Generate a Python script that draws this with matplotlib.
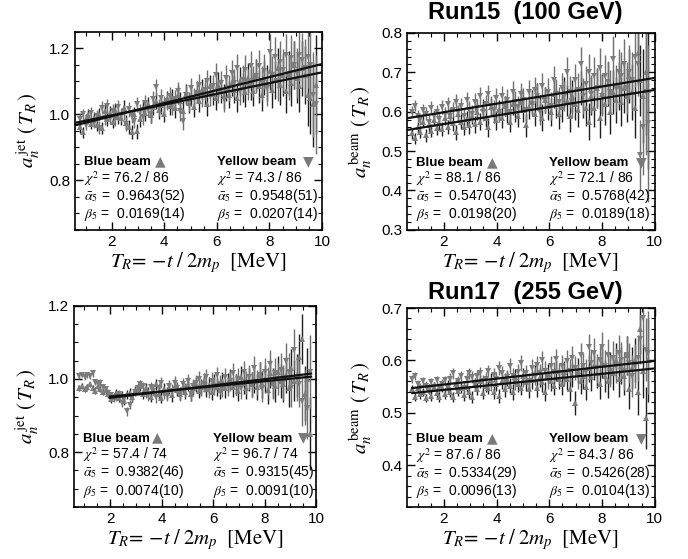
import numpy as np
import matplotlib.pyplot as plt
from matplotlib.ticker import MultipleLocator

plt.rcParams['font.family'] = ['Liberation Sans', 'DejaVu Sans']
plt.rcParams['mathtext.fontset'] = 'stix'

# --- bin centres T_R [MeV] ---
T_R = [0.80, 0.90, 1.01, 1.11, 1.21, 1.32, 1.42, 1.52, 1.62, 1.73, 1.83,
       1.93, 2.04, 2.14, 2.24, 2.35, 2.45, 2.55, 2.65, 2.76, 2.86, 2.96,
       3.07, 3.17, 3.27, 3.38, 3.48, 3.58, 3.68, 3.79, 3.89, 3.99, 4.10,
       4.20, 4.30, 4.41, 4.51, 4.61, 4.71, 4.82, 4.92, 5.02, 5.13, 5.23,
       5.33, 5.44, 5.54, 5.64, 5.74, 5.85, 5.95, 6.05, 6.16, 6.26, 6.36,
       6.47, 6.57, 6.67, 6.77, 6.88, 6.98, 7.08, 7.19, 7.29, 7.39, 7.50,
       7.60, 7.70, 7.80, 7.91, 8.01, 8.11, 8.22, 8.32, 8.42, 8.53, 8.63,
       8.73, 8.83, 8.94, 9.04, 9.14, 9.25, 9.35, 9.45, 9.56, 9.66, 9.76]

# --- Run15 jet ---
err_15jet = [0.018, 0.017, 0.017, 0.018, 0.018, 0.018, 0.019, 0.019, 0.019, 0.020, 0.020,
             0.020, 0.020, 0.021, 0.021, 0.021, 0.022, 0.022, 0.022, 0.022, 0.023, 0.023,
             0.023, 0.024, 0.024, 0.024, 0.025, 0.025, 0.025, 0.026, 0.026, 0.026, 0.027,
             0.027, 0.027, 0.028, 0.028, 0.029, 0.029, 0.030, 0.030, 0.031, 0.031, 0.032,
             0.032, 0.033, 0.033, 0.034, 0.035, 0.035, 0.036, 0.037, 0.037, 0.038, 0.039,
             0.040, 0.040, 0.041, 0.042, 0.043, 0.044, 0.045, 0.046, 0.047, 0.048, 0.049,
             0.050, 0.051, 0.052, 0.054, 0.055, 0.056, 0.058, 0.060, 0.061, 0.063, 0.065,
             0.067, 0.070, 0.072, 0.075, 0.079, 0.083, 0.088, 0.095, 0.110, 0.130, 0.150]
blue_15jet = [0.962, 0.945, 0.985, 0.998, 0.972, 0.990, 0.969, 1.001, 0.958, 1.010, 0.985,
              1.004, 0.978, 1.012, 0.993, 0.989, 1.020, 0.975, 0.962, 0.947, 1.000, 0.948,
              0.985, 1.020, 1.005, 1.030, 0.998, 1.022, 1.040, 1.012, 1.028, 1.002, 1.045,
              1.025, 1.050, 1.018, 1.060, 1.040, 1.010, 1.062, 1.035, 1.055, 1.022, 1.068,
              1.040, 1.075, 1.058, 1.030, 1.085, 1.062, 1.048, 1.090, 1.070, 1.055, 1.080,
              1.060, 1.095, 1.075, 1.050, 1.100, 1.082, 1.068, 1.110, 1.090, 1.072, 1.120,
              1.085, 1.060, 1.110, 1.095, 1.130, 1.075, 1.105, 1.140, 1.090, 1.120, 1.070,
              1.125, 1.095, 1.150, 1.110, 1.085, 1.140, 1.120, 1.060, 1.050, 1.030, 1.090]
yellow_15jet = [0.985, 1.000, 0.968, 0.990, 1.005, 0.975, 0.995, 0.960, 1.020, 0.988, 1.025,
                0.990, 1.010, 0.985, 1.022, 0.998, 1.005, 0.970, 1.015, 0.995, 0.980, 1.030,
                1.008, 0.992, 1.035, 1.015, 1.000, 1.045, 1.082, 1.020, 1.050, 1.030, 1.040,
                1.055, 1.025, 1.045, 1.070, 1.010, 0.980, 1.060, 1.038, 1.080, 1.050, 1.065,
                1.090, 1.055, 1.075, 1.100, 1.060, 1.085, 1.120, 1.070, 1.095, 1.045, 1.110,
                1.080, 1.125, 1.095, 1.140, 1.070, 1.105, 1.135, 1.090, 1.145, 1.100, 1.115,
                1.145, 1.095, 1.130, 1.080, 1.190, 1.120, 1.175, 1.100, 1.160, 1.135, 1.180,
                1.110, 1.170, 1.150, 1.125, 1.180, 1.165, 1.140, 1.175, 1.150, 1.060, 1.030]

# --- Run15 beam ---
err_15beam = [0.014, 0.014, 0.015, 0.015, 0.015, 0.016, 0.016, 0.016, 0.017, 0.017, 0.017,
              0.018, 0.018, 0.018, 0.019, 0.019, 0.019, 0.020, 0.020, 0.020, 0.021, 0.021,
              0.021, 0.022, 0.022, 0.022, 0.023, 0.023, 0.024, 0.024, 0.024, 0.025, 0.025,
              0.026, 0.026, 0.027, 0.027, 0.028, 0.028, 0.029, 0.029, 0.030, 0.030, 0.031,
              0.031, 0.032, 0.032, 0.033, 0.034, 0.034, 0.035, 0.036, 0.036, 0.037, 0.038,
              0.038, 0.039, 0.040, 0.041, 0.041, 0.042, 0.043, 0.044, 0.045, 0.046, 0.047,
              0.048, 0.049, 0.050, 0.051, 0.052, 0.053, 0.055, 0.056, 0.057, 0.059, 0.060,
              0.062, 0.064, 0.066, 0.069, 0.072, 0.076, 0.081, 0.090, 0.120, 0.160, 0.200]
blue_15beam = [0.545, 0.532, 0.560, 0.548, 0.575, 0.540, 0.565, 0.552, 0.580, 0.558, 0.570,
               0.555, 0.585, 0.562, 0.590, 0.570, 0.548, 0.595, 0.575, 0.560, 0.582, 0.565,
               0.590, 0.568, 0.600, 0.575, 0.610, 0.585, 0.560, 0.612, 0.595, 0.578, 0.605,
               0.585, 0.615, 0.598, 0.575, 0.620, 0.602, 0.590, 0.628, 0.605, 0.565, 0.612,
               0.625, 0.595, 0.640, 0.610, 0.585, 0.630, 0.615, 0.600, 0.645, 0.620, 0.595,
               0.612, 0.650, 0.628, 0.590, 0.640, 0.620, 0.605, 0.660, 0.630, 0.610, 0.575,
               0.640, 0.610, 0.660, 0.585, 0.645, 0.620, 0.670, 0.600, 0.650, 0.630, 0.665,
               0.625, 0.660, 0.640, 0.690, 0.650, 0.610, 0.750, 0.680, 0.640, 0.700, 0.655]
yellow_15beam = [0.600, 0.615, 0.590, 0.580, 0.605, 0.595, 0.575, 0.610, 0.588, 0.600, 0.582,
                 0.612, 0.595, 0.620, 0.590, 0.605, 0.625, 0.598, 0.615, 0.590, 0.630, 0.605,
                 0.595, 0.625, 0.610, 0.640, 0.600, 0.620, 0.645, 0.615, 0.605, 0.635, 0.598,
                 0.640, 0.615, 0.630, 0.600, 0.650, 0.625, 0.612, 0.645, 0.630, 0.605, 0.650,
                 0.620, 0.655, 0.640, 0.600, 0.665, 0.630, 0.650, 0.615, 0.680, 0.645, 0.625,
                 0.660, 0.640, 0.700, 0.650, 0.625, 0.680, 0.655, 0.720, 0.640, 0.670, 0.700,
                 0.645, 0.690, 0.660, 0.710, 0.640, 0.690, 0.675, 0.650, 0.735, 0.660, 0.700,
                 0.690, 0.720, 0.660, 0.700, 0.680, 0.740, 0.720, 0.490, 0.560, 0.650, 0.570]

# --- Run17 jet ---
err_17jet = [0.008, 0.008, 0.008, 0.008, 0.008, 0.009, 0.009, 0.009, 0.009, 0.009, 0.010,
             0.010, 0.010, 0.010, 0.011, 0.011, 0.011, 0.011, 0.012, 0.012, 0.012, 0.012,
             0.013, 0.013, 0.013, 0.013, 0.014, 0.014, 0.014, 0.015, 0.015, 0.015, 0.016,
             0.016, 0.016, 0.017, 0.017, 0.017, 0.018, 0.018, 0.019, 0.019, 0.019, 0.020,
             0.020, 0.021, 0.021, 0.022, 0.022, 0.023, 0.023, 0.024, 0.024, 0.025, 0.025,
             0.026, 0.026, 0.027, 0.028, 0.028, 0.029, 0.030, 0.030, 0.031, 0.032, 0.033,
             0.034, 0.035, 0.036, 0.037, 0.038, 0.039, 0.040, 0.041, 0.043, 0.044, 0.046,
             0.047, 0.049, 0.051, 0.053, 0.056, 0.059, 0.063, 0.068, 0.075, 0.085, 0.100]
blue_17jet = [0.975, 0.980, 0.972, 0.978, 0.985, 0.975, 0.968, 0.980, 0.972, 0.965, 0.970,
              0.958, 0.945, 0.952, 0.962, 0.948, 0.955, 0.940, 0.958, 0.962, 0.950, 0.968,
              0.972, 0.980, 0.958, 0.975, 0.965, 0.952, 0.970, 0.985, 0.960, 0.948, 0.972,
              0.962, 0.975, 0.955, 0.982, 0.970, 0.960, 0.978, 0.965, 0.985, 0.958, 0.975,
              0.985, 0.968, 0.978, 0.995, 0.972, 0.982, 0.965, 0.990, 0.978, 0.970, 0.995,
              0.975, 0.990, 1.000, 0.978, 0.985, 0.968, 1.005, 0.990, 0.975, 0.998, 0.985,
              0.995, 0.978, 1.010, 0.985, 1.000, 0.970, 1.015, 0.990, 0.980, 1.020, 0.995,
              0.985, 1.010, 0.975, 1.030, 0.995, 1.010, 1.060, 1.110, 0.960, 1.000, 0.850]
yellow_17jet = [1.008, 1.012, 1.005, 1.010, 1.008, 1.015, 0.992, 0.985, 0.990, 0.978, 0.972,
                0.962, 0.955, 0.948, 0.952, 0.960, 0.935, 0.945, 0.912, 0.930, 0.950, 0.965,
                0.975, 0.985, 0.980, 0.962, 0.955, 0.978, 0.968, 0.950, 0.975, 0.990, 0.960,
                0.955, 0.980, 0.968, 0.990, 0.975, 0.958, 0.985, 0.970, 0.995, 0.960, 0.980,
                0.990, 1.000, 0.975, 0.985, 1.005, 0.970, 0.995, 0.980, 1.010, 0.985, 0.975,
                1.005, 0.980, 0.995, 1.015, 0.985, 1.000, 0.975, 1.020, 0.990, 1.005, 0.985,
                1.030, 0.990, 1.010, 0.975, 1.020, 0.995, 1.040, 0.985, 1.015, 1.000, 1.025,
                0.990, 1.050, 1.020, 0.975, 1.080, 1.000, 0.985, 0.940, 0.950, 0.920, 1.020]

# --- Run17 beam ---
err_17beam = [0.008, 0.008, 0.008, 0.008, 0.008, 0.008, 0.009, 0.009, 0.009, 0.009, 0.009,
              0.009, 0.009, 0.010, 0.010, 0.010, 0.010, 0.010, 0.010, 0.011, 0.011, 0.011,
              0.011, 0.011, 0.012, 0.012, 0.012, 0.012, 0.012, 0.013, 0.013, 0.013, 0.013,
              0.014, 0.014, 0.014, 0.014, 0.015, 0.015, 0.015, 0.015, 0.016, 0.016, 0.016,
              0.017, 0.017, 0.017, 0.018, 0.018, 0.018, 0.019, 0.019, 0.019, 0.020, 0.020,
              0.021, 0.021, 0.022, 0.022, 0.023, 0.023, 0.024, 0.024, 0.025, 0.025, 0.026,
              0.026, 0.027, 0.028, 0.028, 0.029, 0.030, 0.031, 0.031, 0.032, 0.033, 0.034,
              0.035, 0.036, 0.037, 0.038, 0.040, 0.042, 0.044, 0.047, 0.052, 0.060, 0.080]
blue_17beam = [0.545, 0.530, 0.548, 0.535, 0.540, 0.528, 0.545, 0.532, 0.550, 0.538, 0.530,
               0.548, 0.535, 0.552, 0.540, 0.530, 0.555, 0.542, 0.548, 0.533, 0.550, 0.540,
               0.530, 0.555, 0.545, 0.560, 0.538, 0.552, 0.548, 0.562, 0.540, 0.555, 0.532,
               0.560, 0.545, 0.565, 0.552, 0.540, 0.568, 0.555, 0.548, 0.570, 0.558, 0.545,
               0.562, 0.575, 0.548, 0.568, 0.558, 0.540, 0.575, 0.560, 0.552, 0.580, 0.565,
               0.555, 0.578, 0.565, 0.545, 0.572, 0.518, 0.580, 0.560, 0.570, 0.550, 0.585,
               0.568, 0.590, 0.575, 0.555, 0.595, 0.570, 0.560, 0.585, 0.575, 0.600, 0.565,
               0.590, 0.570, 0.610, 0.545, 0.585, 0.600, 0.540, 0.660, 0.580, 0.490, 0.600]
yellow_17beam = [0.565, 0.570, 0.555, 0.548, 0.560, 0.552, 0.545, 0.558, 0.550, 0.562, 0.548,
                 0.555, 0.562, 0.548, 0.565, 0.575, 0.552, 0.560, 0.570, 0.548, 0.565, 0.575,
                 0.568, 0.555, 0.570, 0.575, 0.560, 0.565, 0.580, 0.555, 0.572, 0.565, 0.585,
                 0.575, 0.562, 0.568, 0.590, 0.570, 0.558, 0.578, 0.595, 0.565, 0.575, 0.560,
                 0.585, 0.570, 0.592, 0.575, 0.600, 0.580, 0.565, 0.590, 0.578, 0.602, 0.575,
                 0.590, 0.572, 0.598, 0.580, 0.605, 0.585, 0.570, 0.610, 0.590, 0.578, 0.625,
                 0.595, 0.615, 0.585, 0.600, 0.625, 0.590, 0.610, 0.580, 0.605, 0.590, 0.615,
                 0.600, 0.580, 0.610, 0.595, 0.570, 0.590, 0.605, 0.640, 0.680, 0.620, 0.615]

# fit results (order: Run15 jet, Run15 beam, Run17 jet, Run17 beam)
chi2_blue = ["76.2", "88.1", "57.4", "87.6"]
chi2_yellow = ["74.3", "72.1", "96.7", "84.3"]
ndf = [86, 86, 74, 86]
alpha_blue = [0.9643, 0.5470, 0.9382, 0.5334]
alpha_blue_e = [52, 43, 46, 29]
beta_blue = [0.0169, 0.0198, 0.0074, 0.0096]
beta_blue_e = [14, 20, 10, 13]
alpha_yellow = [0.9548, 0.5768, 0.9315, 0.5426]
alpha_yellow_e = [51, 42, 45, 28]
beta_yellow = [0.0207, 0.0189, 0.0091, 0.0104]
beta_yellow_e = [14, 18, 10, 13]
fit_start = [0.6, 0.6, 2.0, 0.8]
fit_end = [10.0, 10.0, 9.8, 10.0]


def panel(ax, k, blue, yellow, err, ylim, ymaj, ymin, ylab):
    x = np.array(T_R)
    ax.errorbar(x, blue, yerr=err, fmt='^', ms=5, color='#7c7c7c', mew=0,
                ecolor='#1e1e1e', elinewidth=1.0, capsize=0, zorder=2)
    ax.errorbar(x, yellow, yerr=err, fmt='v', ms=5, color='#7c7c7c', mew=0,
                ecolor='#707070', elinewidth=1.0, capsize=0, zorder=2)
    xf = np.array([fit_start[k], fit_end[k]])
    ax.plot(xf, alpha_blue[k] * (1 + beta_blue[k] * xf), color='#111111', lw=1.6, zorder=3)
    ax.plot(xf, alpha_yellow[k] * (1 + beta_yellow[k] * xf), color='#111111', lw=1.6, zorder=3)

    ax.set_xlim(0.6, 10)
    ax.set_ylim(*ylim)
    ax.xaxis.set_major_locator(MultipleLocator(2))
    ax.xaxis.set_minor_locator(MultipleLocator(0.5))
    ax.yaxis.set_major_locator(MultipleLocator(ymaj))
    ax.yaxis.set_minor_locator(MultipleLocator(ymin))
    ax.yaxis.set_major_formatter(plt.FormatStrFormatter('%.1f'))
    ax.tick_params(which='both', direction='in', top=True, right=True, labelsize=11)
    ax.tick_params(which='major', length=6, width=1)
    ax.tick_params(which='minor', length=3, width=0.8)
    for s in ax.spines.values():
        s.set_linewidth(1.2)

    ax.set_xlabel(r"$T_R\!=\,{-}t\;/\;2m_p\ \ \mathrm{[MeV]}$", fontsize=15, labelpad=1)
    ax.set_ylabel(r"$a_n^{\,\mathrm{%s}}\ \left(\,T_R\,\right)$" % ylab, fontsize=15)
    ax.yaxis.set_label_coords(-0.135, 0.5)

    tr = ax.transAxes
    xs = [0.035, 0.575]
    tri = [0.345, 0.945]
    names = ["Blue beam", "Yellow beam"]
    marks = ["\u25B2", "\u25BC"]
    chis = [chi2_blue[k], chi2_yellow[k]]
    al = [alpha_blue[k], alpha_yellow[k]]
    ale = [alpha_blue_e[k], alpha_yellow_e[k]]
    be = [beta_blue[k], beta_yellow[k]]
    bee = [beta_blue_e[k], beta_yellow_e[k]]
    for j in range(2):
        ax.text(xs[j], 0.325, names[j], transform=tr, fontsize=9.5, weight='bold', va='baseline')
        ax.text(tri[j], 0.325, marks[j], transform=tr, fontsize=10, color='#7a7a7a',
                va='baseline', ha='center', family=['DejaVu Sans'])
        ax.text(xs[j], 0.237, r"$\chi^2$ = %s / %d" % (chis[j], ndf[k]), transform=tr,
                fontsize=10, va='baseline')
        ax.text(xs[j], 0.152, r"$\bar{\alpha}_5$ =  %.4f(%d)" % (al[j], ale[j]), transform=tr,
                fontsize=10, va='baseline')
        ax.text(xs[j], 0.06, r"$\beta_{5}$ =  %.4f(%d)" % (be[j], bee[j]), transform=tr,
                fontsize=10, va='baseline')


fig = plt.figure(figsize=(6.88, 5.59), dpi=100)
ax1 = fig.add_axes([0.109, 0.589, 0.359, 0.354])
ax2 = fig.add_axes([0.5916, 0.589, 0.360, 0.352])
ax3 = fig.add_axes([0.1076, 0.093, 0.352, 0.360])
ax4 = fig.add_axes([0.5916, 0.093, 0.360, 0.356])

panel(ax1, 0, blue_15jet, yellow_15jet, err_15jet, (0.65, 1.25), 0.2, 0.05, "jet")
panel(ax2, 1, blue_15beam, yellow_15beam, err_15beam, (0.3, 0.8), 0.1, 0.02, "beam")
panel(ax3, 2, blue_17jet, yellow_17jet, err_17jet, (0.65, 1.2), 0.2, 0.05, "jet")
panel(ax4, 3, blue_17beam, yellow_17beam, err_17beam, (0.32, 0.7), 0.1, 0.02, "beam")

fig.text(0.763, 0.977, "Run15  (100 GeV)", ha='center', va='center', fontsize=17, weight='bold')
fig.text(0.763, 0.476, "Run17  (255 GeV)", ha='center', va='center', fontsize=17, weight='bold')

fig.savefig("out.png", dpi=100)
